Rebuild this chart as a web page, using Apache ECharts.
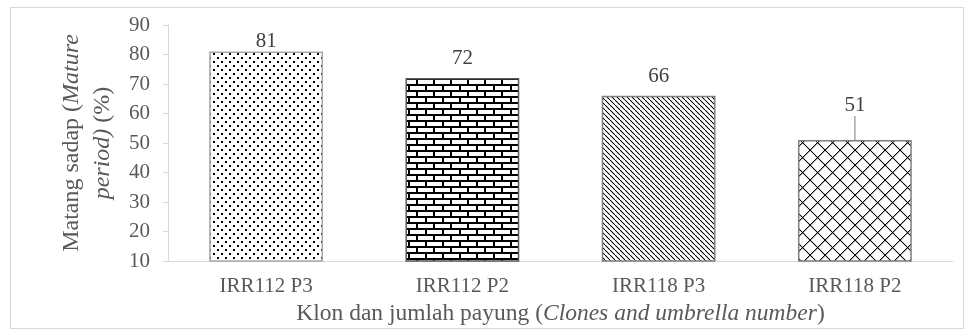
<!DOCTYPE html>
<html>
<head>
<meta charset="utf-8">
<script src="https://cdn.jsdelivr.net/npm/echarts@6/dist/echarts.min.js"></script>
<style>
  html, body { margin: 0; padding: 0; background: #fff; }
  #main { width: 973px; height: 334px; }
  #frame { position: absolute; left: 10px; top: 7px; width: 952px; height: 320px; border: 1px solid #d9d9d9; pointer-events: none; }
</style>
</head>
<body>
<div id="main"></div>
<div id="frame"></div>
<script>
// data
var categories = ["IRR112 P3", "IRR112 P2", "IRR118 P3", "IRR118 P2"];
var values = [81, 72, 66, 51];
var yTicks = [10, 20, 30, 40, 50, 60, 70, 80, 90];

var serif = "'Liberation Serif', 'Times New Roman', serif";

// fill patterns (like excel pattern fills)
function makePattern(w, h, draw) {
  var c = document.createElement("canvas");
  c.width = w;
  c.height = h;
  var ctx = c.getContext("2d");
  ctx.fillStyle = "#fff";
  ctx.fillRect(0, 0, w, h);
  ctx.fillStyle = "#000";
  draw(ctx);
  return { image: c, repeat: "repeat" };
}

var dots = makePattern(8, 8, function (ctx) {
  ctx.fillRect(1, 1, 2, 2);
  ctx.fillRect(5, 5, 2, 2);
});

var bricks = makePattern(17, 12, function (ctx) {
  ctx.fillRect(0, 0, 17, 2);
  ctx.fillRect(0, 6, 17, 2);
  ctx.fillRect(0, 0, 2, 6);
  ctx.fillRect(8, 6, 2, 6);
});

var diag = makePattern(5, 5, function (ctx) {
  for (var i = 0; i < 5; i++) ctx.fillRect(i, i, 1.2, 1.2);
});

var lattice = makePattern(15, 15, function (ctx) {
  for (var i = 0; i < 15; i++) {
    ctx.fillRect(i, i, 1.2, 1.2);
    ctx.fillRect(14 - i, i, 1.2, 1.2);
  }
});

var fills = [dots, bricks, diag, lattice];
var borders = ["#a6a6a6", "#595959", "#7f7f7f", "#7f7f7f"];
var labelGap = [0, 9, 9, 3];

var chart = echarts.init(document.getElementById("main"));

chart.setOption({
  animation: false,
  grid: { left: 168, right: 20, top: 25, bottom: 73 },
  xAxis: {
    type: "category",
    data: categories,
    axisTick: { show: false },
    axisLine: { lineStyle: { color: "#d9d9d9", width: 1 } },
    axisLabel: { fontSize: 21, color: "#595959", fontFamily: serif, margin: 15 },
    name: "{n|Klon dan jumlah payung (}{i|Clones and umbrella number}{n|)}",
    nameLocation: "middle",
    nameGap: 37,
    nameTextStyle: {
      rich: {
        n: { fontSize: 23.5, color: "#595959", fontFamily: serif },
        i: { fontSize: 23.5, color: "#595959", fontFamily: serif, fontStyle: "italic" }
      }
    }
  },
  yAxis: {
    type: "value",
    min: yTicks[0],
    max: yTicks[yTicks.length - 1],
    interval: 10,
    axisLine: { show: true, lineStyle: { color: "#d9d9d9", width: 1 } },
    axisTick: { show: true, length: 5, lineStyle: { color: "#d9d9d9" } },
    splitLine: { show: false },
    axisLabel: { fontSize: 21, color: "#595959", fontFamily: serif, margin: 18 },
    name: "{n|Matang sadap (}{i|Mature}\n{i|period)}{n| (%)}",
    nameLocation: "middle",
    nameRotate: 90,
    nameGap: 50,
    nameTextStyle: {
      lineHeight: 31,
      rich: {
        n: { fontSize: 24, color: "#595959", fontFamily: serif, lineHeight: 31 },
        i: { fontSize: 24, color: "#595959", fontFamily: serif, fontStyle: "italic", lineHeight: 31 }
      }
    }
  },
  series: [
    {
      type: "bar",
      barCategoryGap: "42%",
      data: values.map(function (v, i) {
        var item = {
          value: v,
          itemStyle: { color: fills[i], borderColor: borders[i], borderWidth: 1.5 },
          label: { distance: labelGap[i] }
        };
        if (i === 3) {
          item.labelLine = { show: true, lineStyle: { color: "#a6a6a6", width: 1.5 } };
        }
        return item;
      }),
      label: {
        show: true,
        position: "top",
        fontSize: 21,
        color: "#404040",
        fontFamily: serif
      },
      labelLayout: function (params) {
        if (params.dataIndex === 3) return { dy: -21 };
        return {};
      }
    }
  ]
});
</script>
</body>
</html>
